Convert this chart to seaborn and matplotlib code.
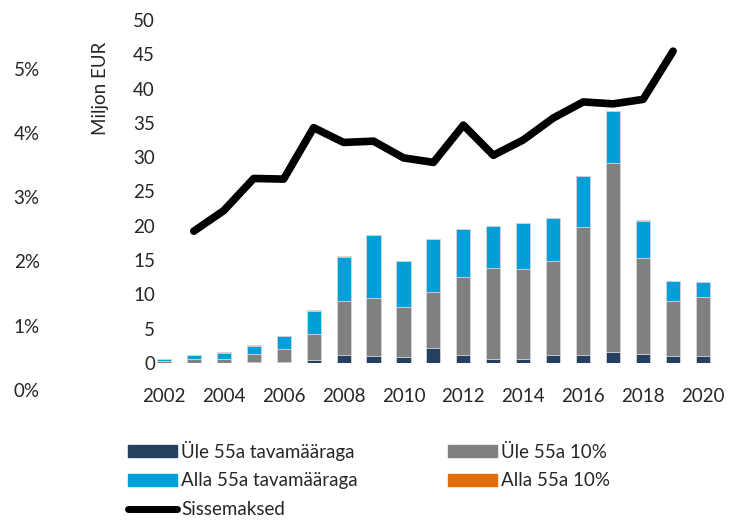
import matplotlib
matplotlib.use('Agg')
import matplotlib.pyplot as plt
import seaborn as sns
import numpy as np
from matplotlib.patches import Patch
from matplotlib.lines import Line2D

# data (Miljon EUR)
years = list(range(2002, 2021))
ule_tava = [0.0, 0.05, 0.05, 0.15, 0.2, 0.45, 1.15, 1.05, 0.9, 2.25, 1.2, 0.55, 0.65, 1.2, 1.2, 1.65, 1.35, 1.05, 1.05]
ule_10 = [0.25, 0.5, 0.6, 1.2, 1.8, 3.75, 7.95, 8.4, 7.3, 8.05, 11.3, 13.25, 13.1, 13.6, 18.6, 27.45, 13.9, 8.05, 8.5]
alla_tava = [0.3, 0.55, 0.8, 1.15, 1.95, 3.4, 6.35, 9.15, 6.6, 7.7, 7.1, 6.2, 6.6, 6.3, 7.4, 7.7, 5.5, 2.8, 2.3]
alla_10 = [0.1, 0.0, 0.1, 0.05, 0.05, 0.1, 0.15, 0.0, 0.1, 0.0, 0.0, 0.0, 0.0, 0.0, 0.0, 0.0, 0.05, 0.1, 0.0]

# Sissemaksed, % (2003-2019)
line_years = list(range(2003, 2020))
sissemaksed = [2.47, 2.79, 3.29, 3.28, 4.08, 3.85, 3.87, 3.61, 3.54, 4.12, 3.65, 3.89, 4.23, 4.48, 4.45, 4.52, 5.27]

c_dark = '#243F60'
c_gray = '#808080'
c_blue = '#009FD7'
c_orange = '#E46C0A'

sns.set_style('white')
plt.rcParams['font.family'] = ['Lato', 'DejaVu Sans']

fig = plt.figure(figsize=(7.41, 5.2), dpi=100)
ax = fig.add_axes([0.211, 0.302, 0.758, 0.6596])

l1 = np.array(ule_tava)
l2 = l1 + np.array(ule_10)
l3 = l2 + np.array(alla_tava)
l4 = l3 + np.array(alla_10)

# stacked bars: draw cumulative totals from the top layer down
for vals, col in [(l4, c_orange), (l3, c_blue), (l2, c_gray), (l1, c_dark)]:
    sns.barplot(x=years, y=vals, color=col, saturation=1, native_scale=True,
                width=0.47, edgecolor='#d9d9d9', linewidth=0.6, ax=ax)

ax.set_xlim(2001.75, 2020.5)
ax.set_ylim(0, 50)
ax.set_yticks(range(0, 51, 5))
ax.set_xticks(range(2002, 2021, 2))
ax.tick_params(axis='both', length=0, labelsize=13.5)
ax.tick_params(axis='y', pad=1)
ax.tick_params(axis='x', pad=18)
ax.set_ylabel('Miljon EUR', fontsize=13.5)
ax.yaxis.set_label_coords(-0.085, 0.8)
sns.despine(ax=ax, left=True, bottom=True)

# percent axis for the line
ax2 = fig.add_axes([0.211, 0.25, 0.758, 0.7115])
ax2.patch.set_alpha(0)
sns.lineplot(x=line_years, y=sissemaksed, color='black', linewidth=5.5,
             solid_capstyle='round', ax=ax2)
ax2.set_xlim(2001.75, 2020.5)
ax2.set_ylim(0, 5.754)
ax2.set_yticks(range(0, 6))
ax2.set_yticklabels([f'{i}%' for i in range(0, 6)])
ax2.tick_params(axis='y', length=0, labelsize=13.5, pad=84)
ax2.set_xticks([])
ax2.set_xlabel('')
ax2.set_ylabel('')
sns.despine(ax=ax2, left=True, bottom=True)

handles = [
    Patch(color=c_dark, label='Üle 55a tavamääraga'),
    Patch(color=c_blue, label='Alla 55a tavamääraga'),
    Line2D([], [], color='black', linewidth=5, solid_capstyle='round', label='Sissemaksed'),
    Patch(color=c_gray, label='Üle 55a 10%'),
    Patch(color=c_orange, label='Alla 55a 10%'),
]
fig.legend(handles=handles, loc='upper left', bbox_to_anchor=(0.1727, 0.153),
           ncol=2, frameon=False, fontsize=13.5, borderpad=0, borderaxespad=0,
           handlelength=2.6, handleheight=0.6, handletextpad=0.25,
           labelspacing=0.62, columnspacing=4.8)

fig.savefig('out.png', dpi=100)
